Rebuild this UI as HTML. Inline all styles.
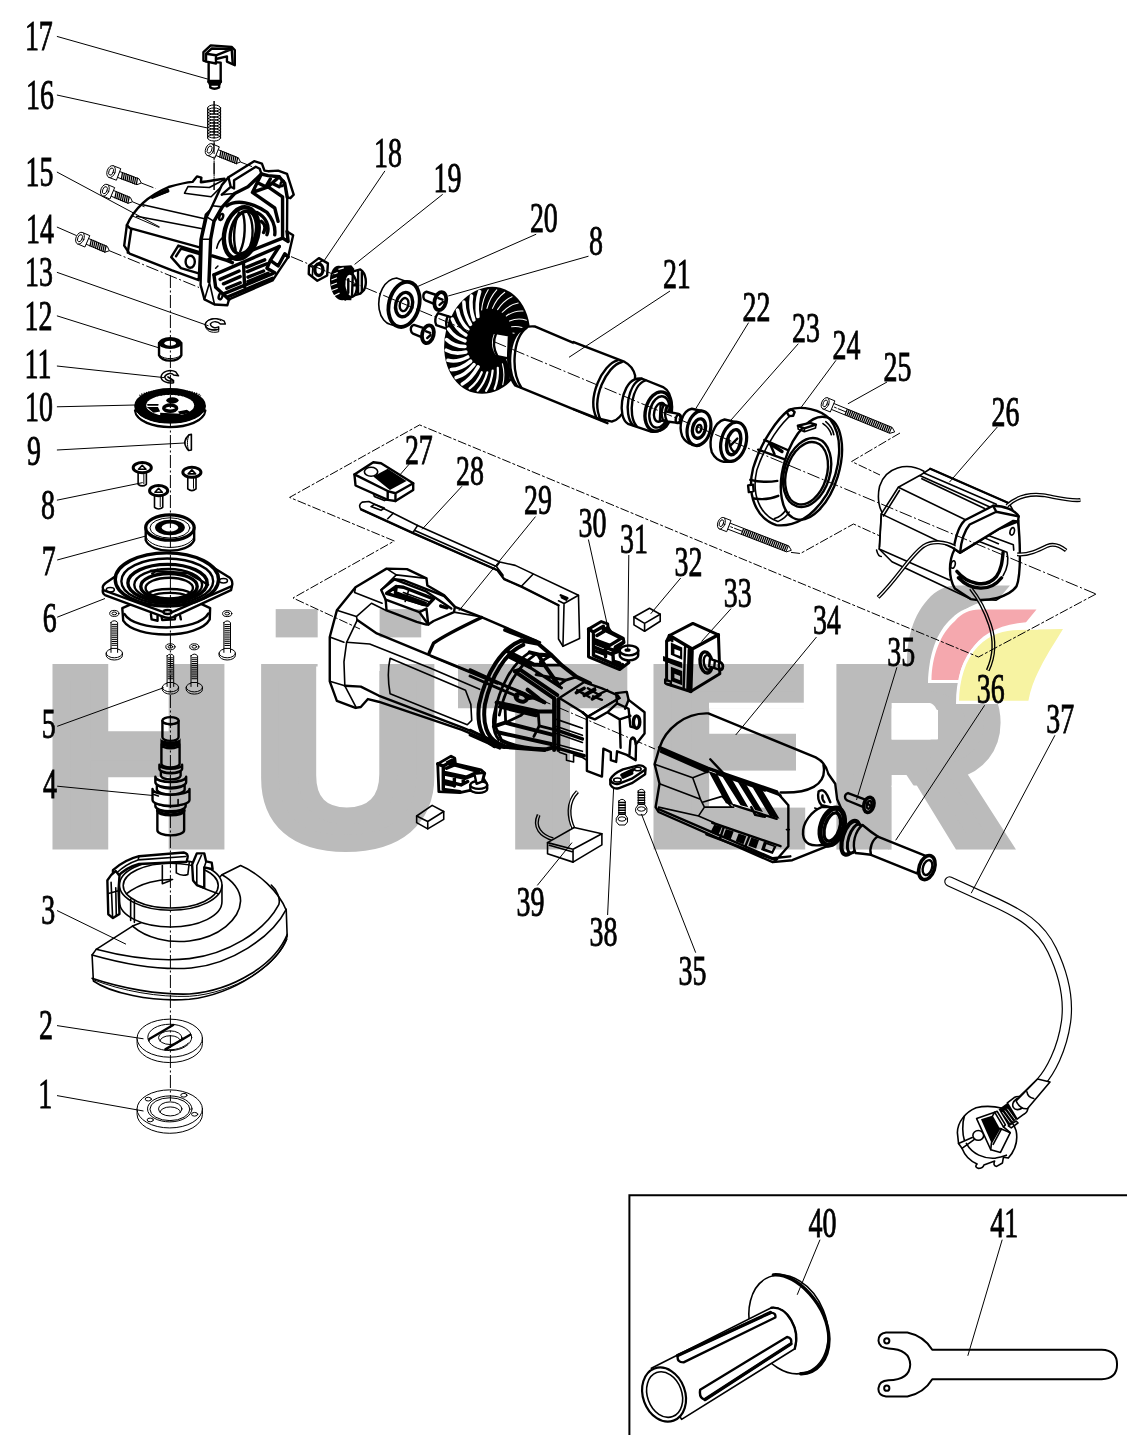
<!DOCTYPE html>
<html lang="en"><head><meta charset="utf-8"><title>HÜTER parts diagram</title>
<style>
html,body{margin:0;padding:0;background:#fff}
svg{display:block}
.n{font-family:"Liberation Serif",serif;font-size:43px;fill:#000;stroke:#000;stroke-width:.9px}
path,line,ellipse,circle,rect,polyline,polygon{vector-effect:non-scaling-stroke}
.k{fill:none;stroke:#000;stroke-width:1.6;stroke-linejoin:round;stroke-linecap:round}
.t{fill:none;stroke:#000;stroke-width:1;stroke-linejoin:round;stroke-linecap:round}
.b{fill:none;stroke:#000;stroke-width:2.4;stroke-linejoin:round;stroke-linecap:round}
.bb{fill:none;stroke:#000;stroke-width:3.4;stroke-linejoin:round;stroke-linecap:round}
.w{fill:#fff;stroke:#000;stroke-width:1.6;stroke-linejoin:round;stroke-linecap:round}
.wt{fill:#fff;stroke:#000;stroke-width:1;stroke-linejoin:round;stroke-linecap:round}
.wb{fill:#fff;stroke:#000;stroke-width:2.4;stroke-linejoin:round;stroke-linecap:round}
.f{fill:#000;stroke:none}
.l{fill:none;stroke:#000;stroke-width:1}
.d{fill:none;stroke:#000;stroke-width:1;stroke-dasharray:13 2.5 2 2.5}
.ds{fill:none;stroke:#000;stroke-width:1;stroke-dasharray:9 2 3 2}
</style></head>
<body>
<svg width="1127" height="1435" viewBox="0 0 1127 1435">
<!-- 20_p15 -->
<g id="p15a" transform="translate(110 140) scale(.17746)">
<path class="wb" d="M80,595 L95,480 C130,400 200,320 330,265 C400,245 440,238 465,236 L490,205 L515,212 L512,238 C560,232 610,222 645,218 L660,300 L540,420 L510,560 L500,790 L350,735 L110,640 Z"/>
<path class="b" d="M95,480 L112,497 L505,605 M120,500 L100,635"/>
<path class="k" d="M150,430 L520,500 M185,365 L527,442 M240,322 L330,290 M420,300 L570,320 L640,250 M420,300 L440,262 L560,268 L640,225"/>
<path class="bb" d="M238,322 L325,285"/>
<path class="b" d="M345,660 L385,595 L500,630 M345,660 L400,722 L500,752 M372,655 L400,612 L500,642"/>
<ellipse class="b" cx="452" cy="686" rx="26" ry="34"/>
<path class="t" d="M120,425 L275,492"/>
</g>
<g id="p15b" transform="translate(190 150) scale(.11152)">
<path class="wb" d="M285,315 L345,245 L575,100 L645,122 L668,185 L700,190 L790,185 L870,215 L930,400 L900,432 L872,425 L870,730 L925,765 L880,960 L800,1080 L740,1170 L350,1340 L335,1392 L220,1385 L130,1340 L95,1210 L105,800 L150,600 L200,500 Z"/>
<path class="b" d="M395,272 L590,150 L625,168 L640,215 M345,245 L365,330 L395,345 L395,272 M365,330 L285,400"/>
<path class="bb" d="M170,1180 L185,800 L215,640 L290,510 L400,390 L520,330 L640,215 L700,230 L800,240 L850,300 L872,425"/>
<path class="k" d="M200,500 L290,510 M150,600 L215,640 M105,800 L185,800 M130,1340 L175,1190 L220,1385 M285,400 L400,390"/>
<path class="bb" d="M640,215 L560,380 L700,330 L800,240 M700,330 L830,420 L830,790 M560,380 L760,520 L790,640 M620,300 L680,330 L720,260 M740,300 L800,330"/>
<ellipse class="b" cx="828" cy="300" rx="14" ry="26" transform="rotate(20 828 300)"/>
<ellipse class="b" cx="280" cy="600" rx="16" ry="28" transform="rotate(20 280 600)"/>
<ellipse class="b" cx="275" cy="1310" rx="16" ry="30" transform="rotate(20 275 1310)"/>
<ellipse class="bb" cx="460" cy="745" rx="150" ry="235" transform="rotate(14 460 745)" style="stroke-width:4.4"/>
<ellipse class="bb" cx="478" cy="740" rx="112" ry="195" transform="rotate(14 478 740)"/>
<path class="b" d="M440,560 C400,640 380,780 410,900 M470,555 C500,640 500,800 450,910 M520,560 C570,640 580,800 520,900"/>
<path class="bb" d="M330,500 C420,440 560,470 690,560 C740,620 770,680 760,760 M600,560 C680,600 720,680 690,760 M640,640 C670,660 680,700 660,740"/>
<path class="bb" d="M200,950 L330,990 L830,790 M215,1120 L800,865 M330,990 L380,1010"/>
<path class="bb" d="M830,790 L880,820 L870,730 M800,865 L720,990 L790,1040 L850,930 L880,960 M720,990 L690,1060 L760,1100"/>
<path class="bb" d="M510,1050 L670,985 M515,1090 L690,1020 M520,1140 L660,1085 M520,1180 L700,1105 M270,1160 L440,1085 M300,1200 L450,1135 M330,1240 L450,1190 M480,1020 L490,1230"/>
<path class="bb" d="M215,1120 L230,1230 L350,1340 M300,1290 L740,1110 M330,1320 L740,1150"/>
<path class="k" d="M240,880 C250,830 270,800 300,780 M230,1060 L250,1040"/>
</g>
<!-- 21_p14_17 -->
<path class="d" d="M214.1,101 V138 M214.1,143 V190"/>
<g transform="translate(111.1 171.6) rotate(20.7)"><path class="wt" d="M8.0,-3.1 L28.8,-3.1 L32.3,0 L28.8,3.1 L8.0,3.1 Z"/><path class="k" d="M11.0,-3.1 L12.2,3.1 M13.0,-3.1 L14.2,3.1 M15.0,-3.1 L16.2,3.1 M17.0,-3.1 L18.2,3.1 M19.0,-3.1 L20.2,3.1 M21.0,-3.1 L22.2,3.1 M23.0,-3.1 L24.2,3.1 M25.0,-3.1 L26.2,3.1 M27.0,-3.1 L28.2,3.1 " style="stroke-width:1.3"/><path class="wt" d="M0,-6.2 L8.0,-6.2 L8.0,6.2 L0,6.2 Z"/><ellipse class="wt" cx="0" cy="0" rx="4.0" ry="6.2"/><ellipse class="t" cx="0" cy="0" rx="2.2" ry="3.8"/></g>
<g transform="translate(104.9 190.2) rotate(22.8)"><path class="wt" d="M8.0,-3.1 L26.4,-3.1 L29.9,0 L26.4,3.1 L8.0,3.1 Z"/><path class="k" d="M11.0,-3.1 L12.2,3.1 M13.0,-3.1 L14.2,3.1 M15.0,-3.1 L16.2,3.1 M17.0,-3.1 L18.2,3.1 M19.0,-3.1 L20.2,3.1 M21.0,-3.1 L22.2,3.1 M23.0,-3.1 L24.2,3.1 M25.0,-3.1 L26.2,3.1 " style="stroke-width:1.3"/><path class="wt" d="M0,-6.2 L8.0,-6.2 L8.0,6.2 L0,6.2 Z"/><ellipse class="wt" cx="0" cy="0" rx="4.0" ry="6.2"/><ellipse class="t" cx="0" cy="0" rx="2.2" ry="3.8"/></g>
<g transform="translate(80.0 238.2) rotate(23.1)"><path class="wt" d="M8.0,-3.1 L28.4,-3.1 L31.9,0 L28.4,3.1 L8.0,3.1 Z"/><path class="k" d="M11.0,-3.1 L12.2,3.1 M13.0,-3.1 L14.2,3.1 M15.0,-3.1 L16.2,3.1 M17.0,-3.1 L18.2,3.1 M19.0,-3.1 L20.2,3.1 M21.0,-3.1 L22.2,3.1 M23.0,-3.1 L24.2,3.1 M25.0,-3.1 L26.2,3.1 M27.0,-3.1 L28.2,3.1 " style="stroke-width:1.3"/><path class="wt" d="M0,-6.2 L8.0,-6.2 L8.0,6.2 L0,6.2 Z"/><ellipse class="wt" cx="0" cy="0" rx="4.0" ry="6.2"/><ellipse class="t" cx="0" cy="0" rx="2.2" ry="3.8"/></g>
<g transform="translate(209.6 149.6) rotate(21.9)"><path class="wt" d="M8.0,-3.1 L29.8,-3.1 L33.3,0 L29.8,3.1 L8.0,3.1 Z"/><path class="k" d="M11.0,-3.1 L12.2,3.1 M13.0,-3.1 L14.2,3.1 M15.0,-3.1 L16.2,3.1 M17.0,-3.1 L18.2,3.1 M19.0,-3.1 L20.2,3.1 M21.0,-3.1 L22.2,3.1 M23.0,-3.1 L24.2,3.1 M25.0,-3.1 L26.2,3.1 M27.0,-3.1 L28.2,3.1 M29.0,-3.1 L30.2,3.1 " style="stroke-width:1.3"/><path class="wt" d="M0,-6.2 L8.0,-6.2 L8.0,6.2 L0,6.2 Z"/><ellipse class="wt" cx="0" cy="0" rx="4.0" ry="6.2"/><ellipse class="t" cx="0" cy="0" rx="2.2" ry="3.8"/></g>
<g transform="translate(170 25) scale(.10449)">
<path class="wb" d="M370,350 L370,545 L385,565 L385,598 Q425,622 470,598 L470,565 L485,545 L485,360 Z"/>
<path class="bb" d="M372,540 L483,540 M385,565 L470,565"/>
<path class="wb" d="M320,260 L390,195 L590,210 L620,240 L620,385 L545,350 L545,300 L440,325 L440,368 L350,350 L320,340 Z"/>
<path class="b" d="M345,275 L440,290 L440,325 M345,275 L345,348 M345,275 L400,225 L590,230 M440,290 L590,230 L600,370"/>
</g>
<g transform="translate(170 25) scale(.10449)"><ellipse class="t" cx="422.0" cy="795.0" rx="62.0" ry="30.0"/><ellipse class="t" cx="422.0" cy="823.5" rx="62.0" ry="30.0"/><ellipse class="t" cx="422.0" cy="852.0" rx="62.0" ry="30.0"/><ellipse class="t" cx="422.0" cy="880.5" rx="62.0" ry="30.0"/><ellipse class="t" cx="422.0" cy="909.0" rx="62.0" ry="30.0"/><ellipse class="t" cx="422.0" cy="937.5" rx="62.0" ry="30.0"/><ellipse class="t" cx="422.0" cy="966.0" rx="62.0" ry="30.0"/><ellipse class="t" cx="422.0" cy="994.5" rx="62.0" ry="30.0"/><ellipse class="t" cx="422.0" cy="1023.0" rx="62.0" ry="30.0"/><ellipse class="t" cx="422.0" cy="1051.5" rx="62.0" ry="30.0"/><ellipse class="t" cx="422.0" cy="1080.0" rx="62.0" ry="30.0"/>
<path class="t" d="M360,795 V1080 M484,795 V1080"/></g>
<!-- 22_p9_13 -->
<g transform="translate(120 300) scale(.11152)">
<!-- 13 clip -->
<path class="wt" d="M905,185 C860,150 780,165 765,215 C760,260 830,280 885,262 L885,285 C820,300 760,280 765,215" />
<path class="k" style="stroke-width:1.4" d="M945,215 L900,215 C880,190 830,185 810,215 C815,250 860,255 885,240 L885,262 C830,280 760,260 765,215 C780,165 880,150 935,190 Z" fill="#fff"/>
<!-- 12 bushing -->
<path class="wb" d="M350,385 L350,495 C380,560 520,560 550,495 L550,385 Z"/>
<ellipse class="f" cx="450" cy="385" rx="104" ry="54"/>
<ellipse cx="450" cy="388" rx="52" ry="22" fill="#fff"/>
<path class="t" d="M360,500 C400,535 500,535 540,500"/>
<!-- 11 clip -->
<path class="k" style="stroke-width:1.5" d="M525,680 L480,672 C470,655 420,650 400,690 C410,725 455,735 480,720 L480,742 C430,750 370,730 368,690 C375,640 450,615 500,645 Z" fill="#fff"/>
<path class="k" d="M430,690 L470,715"/>
<!-- 10 gear -->
<path class="wb" d="M135,990 C160,1190 740,1190 765,990 Z"/>
<ellipse class="f" cx="449" cy="950" rx="322" ry="160"/>
<path d="M150,1010 C220,1150 680,1150 750,1010" fill="none" stroke="#fff" stroke-width="1"/>
<ellipse cx="450" cy="945" rx="215" ry="95" fill="#fff"/>
<ellipse class="bb" cx="450" cy="970" rx="58" ry="28"/>
<ellipse class="f" cx="470" cy="900" rx="55" ry="28"/>
<path class="f" d="M240,960 L340,960 L360,1000 L300,1010 Z M520,1000 L600,985 L640,1010 L540,1030 Z M360,1010 L540,1020 L540,1040 L360,1040 Z"/>
<path class="k" d="M250,940 L340,940"/>
<path d="M300,865 C380,835 520,835 600,865" fill="none" stroke="#000" stroke-width="2" stroke-dasharray="2 1.5"/>
<path d="M175,858 C260,792 640,792 725,858" fill="none" stroke="#000" stroke-width="1.6" stroke-dasharray="1.2 1.2"/>
<!-- 9 key -->
<path class="w" d="M640,1205 L640,1345 L615,1350 C590,1320 580,1290 580,1275 C585,1250 600,1225 620,1208 Z"/>
<path class="t" d="M620,1208 C600,1250 600,1300 615,1350"/>
</g>
<!-- 23_p5_8 -->
<g transform="translate(95 455) scale(.1331)">
<path class="w" d="M324,115 V220 Q355,245 386,220 V115 Z"/><path class="t" d="M367,135 V215"/><ellipse class="wb" cx="355" cy="95" rx="68" ry="38" style="stroke-width:3"/><path class="k" d="M327,107 L355,77 L383,107 Z"/>
<path class="w" d="M697,150 V255 Q728,280 759,255 V150 Z"/><path class="t" d="M740,170 V250"/><ellipse class="wb" cx="728" cy="130" rx="68" ry="38" style="stroke-width:3"/><path class="k" d="M700,142 L728,112 L756,142 Z"/>
<path class="w" d="M447,288 V393 Q478,418 509,393 V288 Z"/><path class="t" d="M490,308 V388"/><ellipse class="wb" cx="478" cy="268" rx="68" ry="38" style="stroke-width:3"/><path class="k" d="M450,280 L478,250 L506,280 Z"/>
<path class="wb" d="M381,545 V640 C420,745 700,745 745,640 V545 Z"/>
<path class="t" d="M385,620 C430,720 700,720 742,620"/>
<ellipse class="wb" cx="563" cy="545" rx="182" ry="95" style="stroke-width:3.2"/>
<ellipse class="t" cx="563" cy="548" rx="150" ry="76"/>
<ellipse class="f" cx="563" cy="545" rx="112" ry="58"/>
<ellipse cx="563" cy="545" rx="62" ry="30" fill="#fff"/>
<path class="wb" d="M205,1150 L212,1245 C300,1385 780,1385 862,1235 L865,1150 L545,1000 Z"/>
<path class="b" d="M222,1195 C300,1330 780,1330 852,1190"/>
<path class="wb" d="M60,1005 Q52,985 80,962 L330,790 Q567,700 800,790 L1010,920 Q1042,950 1028,990 L1022,1015 L585,1218 Q545,1232 505,1212 L75,1052 Q52,1040 60,1005 Z"/>
<path class="b" d="M68,1018 L515,1180 Q545,1192 580,1180 L1028,985"/>
<ellipse class="wb" cx="540" cy="935" rx="388" ry="200" style="stroke-width:3.4"/>
<ellipse class="b" cx="543" cy="948" rx="345" ry="170"/>
<ellipse class="bb" cx="545" cy="962" rx="298" ry="140"/>
<ellipse class="b" cx="550" cy="975" rx="255" ry="118"/>
<ellipse class="bb" cx="556" cy="988" rx="212" ry="98"/>
<ellipse class="b" cx="558" cy="1000" rx="178" ry="78"/>
<path class="b" d="M400,1040 C450,995 670,995 720,1040 M430,1058 C480,1028 640,1028 690,1058"/>
<path class="b" d="M420,870 L700,888 L850,975 M470,862 L430,890"/>
<ellipse class="k" cx="115" cy="1012" rx="30" ry="17"/>
<ellipse class="k" cx="965" cy="945" rx="30" ry="17"/>
<ellipse class="wb" cx="545" cy="1180" rx="30" ry="15"/>
<path class="b" d="M420,1195 L425,1235 L470,1245 L470,1210 M500,1215 L505,1240 L600,1235 L605,1205 M640,1210 L645,1235"/>
</g>
<ellipse class="wt" cx="114.3" cy="613.4" rx="4.6" ry="3"/><ellipse class="t" cx="114.3" cy="613.4" rx="2.4" ry="1.4"/><path class="wt" d="M111.0,622.4 V653.4 H117.6 V622.4 Q114.3,618.9 111.0,622.4 Z"/><path class="t" d="M112.0,624.4 h4.6 M112.0,626.3 h4.6 M112.0,628.2 h4.6 M112.0,630.1 h4.6 M112.0,632.0 h4.6 M112.0,633.9 h4.6 M112.0,635.8 h4.6 M112.0,637.7 h4.6 M112.0,639.6 h4.6 M112.0,641.5 h4.6 M112.0,643.4 h4.6 M112.0,645.3 h4.6 "/><path class="wt" d="M106.1,655.4 a8.2,4.6 0 1,0 16.4,0 v-2.2 a8.2,4.6 0 1,0 -16.4,0 Z"/><path class="t" d="M106.1,653.2 a8.2,4.6 0 0,0 16.4,0"/><path class="wt" d="M111.0,652.4 v-4 h6.6 v4"/>
<ellipse class="wt" cx="227.2" cy="613.6" rx="4.6" ry="3"/><ellipse class="t" cx="227.2" cy="613.6" rx="2.4" ry="1.4"/><path class="wt" d="M223.9,622.6 V653.4 H230.5 V622.6 Q227.2,619.1 223.9,622.6 Z"/><path class="t" d="M224.9,624.6 h4.6 M224.9,626.5 h4.6 M224.9,628.4 h4.6 M224.9,630.3 h4.6 M224.9,632.2 h4.6 M224.9,634.1 h4.6 M224.9,636.0 h4.6 M224.9,637.9 h4.6 M224.9,639.8 h4.6 M224.9,641.7 h4.6 M224.9,643.6 h4.6 M224.9,645.5 h4.6 "/><path class="wt" d="M219.0,655.4 a8.2,4.6 0 1,0 16.4,0 v-2.2 a8.2,4.6 0 1,0 -16.4,0 Z"/><path class="t" d="M219.0,653.2 a8.2,4.6 0 0,0 16.4,0"/><path class="wt" d="M223.9,652.4 v-4 h6.6 v4"/>
<ellipse class="wt" cx="170.4" cy="646.8" rx="4.6" ry="3"/><ellipse class="t" cx="170.4" cy="646.8" rx="2.4" ry="1.4"/><path class="wt" d="M167.1,655.8 V687.5 H173.7 V655.8 Q170.4,652.3 167.1,655.8 Z"/><path class="t" d="M168.1,657.8 h4.6 M168.1,659.7 h4.6 M168.1,661.6 h4.6 M168.1,663.5 h4.6 M168.1,665.4 h4.6 M168.1,667.3 h4.6 M168.1,669.2 h4.6 M168.1,671.1 h4.6 M168.1,673.0 h4.6 M168.1,674.9 h4.6 M168.1,676.8 h4.6 M168.1,678.7 h4.6 "/><path class="wt" d="M162.2,689.5 a8.2,4.6 0 1,0 16.4,0 v-2.2 a8.2,4.6 0 1,0 -16.4,0 Z"/><path class="t" d="M162.2,687.3 a8.2,4.6 0 0,0 16.4,0"/><path class="wt" d="M167.1,686.5 v-4 h6.6 v4"/>
<ellipse class="wt" cx="194.3" cy="646.8" rx="4.6" ry="3"/><ellipse class="t" cx="194.3" cy="646.8" rx="2.4" ry="1.4"/><path class="wt" d="M191.0,655.8 V687.5 H197.6 V655.8 Q194.3,652.3 191.0,655.8 Z"/><path class="t" d="M192.0,657.8 h4.6 M192.0,659.7 h4.6 M192.0,661.6 h4.6 M192.0,663.5 h4.6 M192.0,665.4 h4.6 M192.0,667.3 h4.6 M192.0,669.2 h4.6 M192.0,671.1 h4.6 M192.0,673.0 h4.6 M192.0,674.9 h4.6 M192.0,676.8 h4.6 M192.0,678.7 h4.6 "/><path class="wt" d="M186.1,689.5 a8.2,4.6 0 1,0 16.4,0 v-2.2 a8.2,4.6 0 1,0 -16.4,0 Z"/><path class="t" d="M186.1,687.3 a8.2,4.6 0 0,0 16.4,0"/><path class="wt" d="M191.0,686.5 v-4 h6.6 v4"/>
<!-- 24_p4 -->
<g transform="translate(120 700) scale(.10101)">
<path class="wb" d="M370,1060 V1290 A132,50 0 0,0 635,1290 V1060 A132,50 0 0,1 370,1060 Z"/>
<path class="bb" d="M372,1095 A132,50 0 0,0 633,1095"/><path class="wb" d="M350,1000 V1050 A150,52 0 0,0 650,1050 V1000 A150,52 0 0,1 350,1000 Z"/>
<path class="wb" d="M322,880 V990 A183,58 0 0,0 688,990 V880 A183,58 0 0,1 322,880 Z"/>
<path class="k" d="M575,985 V1040 M335,935 L380,950"/><path class="wb" d="M365,830 V890 A138,50 0 0,0 640,890 V830 A138,50 0 0,1 365,830 Z"/>
<path class="wb" d="M350,760 V815 A152,52 0 0,0 655,815 V760 A152,52 0 0,1 350,760 Z"/>
<path class="wb" d="M405,690 V750 A98,40 0 0,0 600,750 V690 A98,40 0 0,1 405,690 Z"/>
<path class="wb" d="M390,640 V680 A112,42 0 0,0 615,680 V640 A112,42 0 0,1 390,640 Z"/>
<path class="wb" d="M410,440 V630 A90,38 0 0,0 590,630 V440 A90,38 0 0,1 410,440 Z"/>
<path class="f" d="M400,375 V430 A100,38 0 0,0 600,430 V375 A100,38 0 0,1 400,375 Z"/><path class="wb" d="M420,205 V370 A80,35 0 0,0 580,370 V205 A80,35 0 0,1 420,205 Z"/><ellipse class="wb" cx="500" cy="205" rx="80" ry="35"/>
</g>
<!-- 25_p3 -->
<g transform="translate(85 845) scale(.18634)">
<!-- guard body -->
<path class="w" d="M835,110 C930,150 1040,250 1080,350 L1085,490 C1040,640 800,800 560,828 C350,845 130,790 45,730 L38,590 L60,560 L255,435 L600,300 L735,160 Z"/>
<path class="k" d="M60,560 C250,610 420,625 560,610 C760,585 960,470 1040,320 C1050,290 1030,240 1000,215"/>
<path class="k" d="M38,590 C250,650 420,672 570,660 C780,640 1000,500 1080,345"/>
<path class="k" d="M38,715 C200,770 400,805 560,800 C800,780 1020,640 1085,480"/>
<path class="t" d="M42,722 C200,785 400,818 560,812 C800,795 1030,650 1085,505"/>
<path class="k" d="M255,435 C330,500 450,528 560,515 C720,495 830,400 835,300 C835,240 790,190 735,160"/>
<!-- collar -->
<path class="w" d="M185,215 V305 A275,135 0 0,0 735,305 V215 Z"/>
<ellipse class="w" cx="460" cy="215" rx="275" ry="135"/>
<ellipse class="k" cx="460" cy="218" rx="255" ry="120"/>
<path class="k" d="M222,262 C300,200 400,183 470,185 M245,290 V405 M265,300 V415"/>
<path class="k" d="M415,110 V208 L460,190 M490,90 V150 Q520,170 552,158 L560,90 M600,215 C650,240 680,250 715,262"/>
<!-- top strap / lever -->
<path class="wb" d="M150,135 C200,90 250,70 290,60 L530,40 Q555,45 550,70 L545,90 L290,102 C240,115 200,140 170,175 L150,175 Z"/>
<path class="k" d="M290,60 L285,80 L540,62 M285,80 C240,95 200,120 170,150"/>
<!-- left clamp -->
<path class="wb" d="M120,190 C135,165 150,150 165,140 L185,165 L180,240 L185,370 L150,392 L125,372 Z"/>
<path class="k" d="M140,200 L148,385 M165,230 L168,380 M125,260 L180,245"/>
<!-- right boss -->
<path class="wb" d="M575,105 L600,45 L640,45 L650,88 L680,95 L685,130 L640,120 L640,230 L600,215 L580,190 Z"/>
<path class="k" d="M600,110 L625,55 M600,110 V210 M640,120 L650,88"/>
</g>
<!-- 26_p1_2 -->
<g transform="translate(120 1005) scale(.09756)">
<path class="wt" d="M175,340 V395 A335,195 0 0,0 845,395 V340 Z"/>
<ellipse class="wt" cx="510" cy="340" rx="335" ry="195"/>
<ellipse class="t" cx="510" cy="332" rx="225" ry="135"/>
<path class="b" d="M300,348 L545,205 M465,455 L720,305"/>
<path class="t" d="M300,348 L300,370 M465,455 C560,470 650,440 700,390"/>
<ellipse class="t" cx="515" cy="335" rx="120" ry="70"/>
<path class="t" d="M410,370 A105,55 0 0,1 620,370"/>
<path class="wt" d="M175,1065 V1120 A335,195 0 0,0 845,1120 V1065 Z"/>
<ellipse class="wt" cx="510" cy="1065" rx="335" ry="195"/>
<ellipse class="t" cx="510" cy="1065" rx="228" ry="133"/>
<ellipse class="t" cx="512" cy="1068" rx="205" ry="117"/>
<ellipse class="t" cx="515" cy="1065" rx="120" ry="72"/>
<path class="t" d="M410,1100 A105,55 0 0,1 620,1100"/>
<ellipse class="t" cx="290" cy="965" rx="32" ry="19"/><ellipse class="t" cx="655" cy="925" rx="32" ry="19"/><ellipse class="t" cx="765" cy="1120" rx="32" ry="19"/><ellipse class="t" cx="310" cy="1178" rx="32" ry="19"/>
</g>
<!-- 27_p18_20 -->
<g transform="translate(300 240) scale(.15084)">
<!-- 18 nut -->
<path class="wb" d="M60,170 L125,120 L185,155 L180,235 L115,270 L58,225 Z"/>
<path class="k" d="M60,170 L85,180 L150,135 M85,180 L82,240"/>
<ellipse class="bb" cx="125" cy="197" rx="27" ry="38"/>
<!-- 19 pinion -->
<path class="wb" d="M330,215 L400,195 C440,220 445,290 425,330 L400,355 L330,375 Z"/>
<path class="b" d="M385,205 V350 M410,215 V340"/>
<ellipse class="f" cx="268" cy="285" rx="68" ry="115" transform="rotate(-8 268 285)"/>
<path class="f" d="M268,172 L340,168 L360,190 L340,400 L280,398 Z"/>
<path d="M215,230 L250,215 M208,265 L245,250 M205,300 L245,285 M210,335 L250,320 M225,370 L262,352 M255,195 L290,185" stroke="#fff" stroke-width="1.2" fill="none"/>
<ellipse cx="335" cy="300" rx="42" ry="78" fill="#fff" stroke="#000" stroke-width="2.4" transform="rotate(-5 335 300)"/>
<path class="b" d="M320,260 V350 M350,235 L345,365 M300,330 L300,395 M360,300 L385,300"/>
<!-- 20 bearing -->
<path class="w" d="M720,280 L640,252 C560,260 510,360 525,460 C535,520 570,555 600,560 L665,578 Z"/>
<ellipse class="wb" cx="690" cy="427" rx="100" ry="152" transform="rotate(14 690 427)" style="stroke-width:3.8"/>
<ellipse class="bb" cx="690" cy="428" rx="55" ry="82" transform="rotate(14 690 428)"/>
<ellipse class="b" cx="690" cy="428" rx="28" ry="44" transform="rotate(14 690 428)"/>
<!-- screws 8 -->
<path class="wb" d="M915,368 L838,343 Q815,350 818,378 Q820,395 832,400 L905,430 Z"/>
<ellipse class="wb" cx="930" cy="405" rx="38" ry="60" transform="rotate(14 930 405)" style="stroke-width:3.8"/>
<path class="b" d="M918,385 L945,395 M925,430 L948,410"/>
<path class="wb" d="M832,588 L755,563 Q732,570 735,598 Q737,615 749,620 L822,650 Z"/>
<ellipse class="wb" cx="848" cy="625" rx="38" ry="60" transform="rotate(14 848 625)" style="stroke-width:3.8"/>
<path class="b" d="M836,605 L863,615 M843,650 L866,630"/>
</g>
<!-- 28_p21 -->
<g transform="translate(430 275) scale(.17746)">
<path class="wb" d="M45,215 L140,245 L130,315 L35,282 Q20,250 45,215 Z"/><path class="b" d="M100,232 Q85,265 95,300 M118,238 Q103,270 113,308"/>
<ellipse class="f" cx="322" cy="368" rx="238" ry="305" transform="rotate(14 322 368)"/>
<path d="M382,523 Q387,584 364,642 M353,539 Q348,602 316,653 M323,548 Q307,609 268,652 M292,548 Q268,606 223,639 " fill="none" stroke="#fff" stroke-width="2.2" stroke-linecap="round"/>
<path d="M461,403 Q501,433 518,488 M448,439 Q482,480 489,539 M431,472 Q456,522 453,583 M408,500 Q424,557 410,618 M291,197 Q296,134 328,83 M321,188 Q337,127 376,84 M352,188 Q376,130 421,97 M381,195 Q414,144 462,122 M407,210 Q447,167 497,158 M430,231 Q475,199 524,203 M448,259 Q497,239 543,255 M460,292 Q510,284 552,312 M467,327 Q516,333 550,372 M467,365 Q513,383 539,431 " fill="none" stroke="#fff" stroke-width="1.1" stroke-linecap="round"/>
<path d="M271,518 Q232,587 182,614 M248,505 Q200,564 147,578 M229,486 Q172,533 120,533 M213,462 Q152,494 101,481 M202,434 Q138,450 92,424 M197,403 Q133,402 94,364 M197,371 Q136,353 105,305 M202,338 Q147,305 126,248 M213,307 Q166,259 155,197 M228,278 Q191,218 191,153 M247,253 Q223,184 234,118 M270,234 Q258,157 280,94 " fill="none" stroke="#fff" stroke-width="3.6" stroke-linecap="round"/>
<path class="wb" d="M355,325 L445,340 L440,470 L365,455 Q325,395 355,325 Z"/>
<path class="b" d="M372,330 Q345,395 380,458"/>
<path class="wb" d="M1100,507 L590,290 Q540,285 500,315 C420,380 430,560 480,622 L1000,835 Z" style="stroke:none"/><path class="b" d="M1100,507 L590,290 Q540,285 500,315 C420,380 430,560 480,622 L1000,835"/>
<path class="b" d="M520,305 C440,360 430,540 490,625 M545,297 C465,355 455,545 515,635"/>
</g>
<!-- 29_p21b_23 -->
<g transform="translate(580 350) scale(.15972)">
<!-- body end -->
<path d="M-40,-50 L280,75 Q330,100 345,160 C350,280 260,440 200,448 L100,425 L-40,370 Z" fill="#fff"/><path class="b" d="M-40,-50 L280,75 Q330,100 345,160 C350,280 260,440 200,448 L100,425 L-40,370"/>
<path class="b" d="M235,65 C140,90 40,300 105,428 M262,75 C165,100 65,310 130,438"/>
<!-- commutator -->
<path class="wb" d="M390,180 L520,232 C590,270 590,420 540,480 Q500,520 440,510 L300,462 C230,420 260,220 340,185 Q365,175 390,180 Z"/>
<path class="b" d="M385,180 C300,210 270,400 330,470 M410,190 C325,220 295,410 355,478"/>
<ellipse class="bb" cx="490" cy="385" rx="80" ry="125" transform="rotate(14 490 385)"/>
<ellipse class="b" cx="497" cy="388" rx="60" ry="100" transform="rotate(14 497 388)"/>
<ellipse class="wb" cx="500" cy="390" rx="35" ry="60" transform="rotate(14 500 390)"/>
<path class="wb" d="M505,335 L545,350 L540,385 L618,400 Q640,425 625,458 L545,448 L535,440 L500,445 Z"/>
<path class="b" d="M545,350 Q520,400 545,448 M525,342 Q500,392 520,442"/>
<ellipse class="b" cx="615" cy="430" rx="15" ry="28" transform="rotate(14 615 430)"/>
<!-- 22 -->
<path class="wb" d="M775,385 L700,368 C640,380 615,470 640,540 Q660,580 700,590 L745,598 Z"/>
<ellipse class="wb" cx="745" cy="490" rx="72" ry="110" transform="rotate(14 745 490)" style="stroke-width:3.2"/>
<ellipse class="bb" cx="745" cy="492" rx="40" ry="62" transform="rotate(14 745 492)"/>
<ellipse class="b" cx="745" cy="493" rx="15" ry="24" transform="rotate(14 745 493)"/>
<!-- 23 -->
<path class="wb" d="M990,455 L905,435 C840,450 800,560 825,640 Q850,690 900,700 L945,700 Z"/>
<ellipse class="wb" cx="962" cy="575" rx="78" ry="125" transform="rotate(14 962 575)" style="stroke-width:3.2"/>
<ellipse class="bb" cx="962" cy="577" rx="42" ry="80" transform="rotate(14 962 577)"/>
<path class="b" d="M940,600 L985,555 M930,560 C940,620 960,640 975,640"/>
</g>
<!-- 30_p24_25 -->
<g transform="translate(825.2 403.4) rotate(22.3)"><path class="wt" d="M8.0,-3.2 L71.1,-3.2 L75.1,0 L71.1,3.2 L8.0,3.2 Z"/><path d="M22.0,0 H71.1" stroke="#000" stroke-width="6.4" stroke-dasharray="1.3 0.7" fill="none"/><path class="t" d="M-2.0,0 H22.0" style="stroke-dasharray:10 2 2 2"/><path class="wt" d="M0,-6.0 L8.0,-6.0 L8.0,6.0 L0,6.0 Z"/><ellipse class="wt" cx="0" cy="0" rx="3.6" ry="6.0"/><ellipse class="t" cx="0" cy="0" rx="2.0" ry="3.6"/></g>
<g transform="translate(721.4 523.2) rotate(21.2)"><path class="wt" d="M8.0,-3.2 L71.0,-3.2 L75.0,0 L71.0,3.2 L8.0,3.2 Z"/><path d="M22.0,0 H71.0" stroke="#000" stroke-width="6.4" stroke-dasharray="1.3 0.7" fill="none"/><path class="t" d="M-2.0,0 H22.0" style="stroke-dasharray:10 2 2 2"/><path class="wt" d="M0,-6.0 L8.0,-6.0 L8.0,6.0 L0,6.0 Z"/><ellipse class="wt" cx="0" cy="0" rx="3.6" ry="6.0"/><ellipse class="t" cx="0" cy="0" rx="2.0" ry="3.6"/></g>
<g transform="translate(700 390) scale(.18634)">
<path class="wb" d="M480,105 C420,150 330,270 285,420 C250,560 300,690 410,725 C500,735 600,690 680,560 C760,420 770,250 700,160 C650,100 540,85 480,105 Z"/>
<path class="k" d="M500,125 C440,170 350,290 305,430 C275,560 320,670 415,705"/>
<ellipse class="b" cx="598" cy="420" rx="148" ry="285" transform="rotate(17 598 420)"/>
<ellipse class="b" cx="575" cy="443" rx="122" ry="190" transform="rotate(17 575 443)"/>
<ellipse class="b" cx="572" cy="447" rx="108" ry="172" transform="rotate(17 572 447)"/>
<path class="b" d="M345,268 L470,322 M312,320 L455,372 M372,280 L400,345 M270,482 C320,495 370,495 415,488 M290,582 C340,590 380,585 420,568"/>
<path class="bb" d="M380,290 L440,330"/>
<path class="k" d="M660,180 C690,200 700,220 705,240 M675,170 C705,195 715,220 718,240 M400,690 C430,680 450,660 460,645 M420,705 C450,690 470,670 478,655"/>
<path class="wb" d="M525,192 L590,176 L622,186 L560,206 Z"/><path class="k" d="M525,192 L527,210 L560,224 L560,206 M560,224 L620,204 L622,186"/>
<path class="wb" d="M465,118 L490,104 L508,118 L500,138 L478,140 Z"/>
<path class="wb" d="M258,512 L285,508 L288,542 L262,548 Z"/>
</g>
<!-- 31_p26 -->
<g transform="translate(860 450) scale(.21295)">
<!-- back coil -->
<path class="w" d="M300,100 C220,55 120,80 92,170 C78,230 92,285 115,310 L300,200 Z"/>
<!-- body -->
<path class="w" d="M280,120 L330,88 L700,250 L745,330 L745,560 L730,650 L640,705 L520,700 L150,525 L90,465 L100,300 L180,175 Z"/>
<path class="k" d="M180,175 L500,330 M100,300 L445,465 M90,465 L420,610 M280,120 L610,268 M300,108 L640,255 M290,135 L585,275 M185,190 L110,310 M100,300 L92,455 M78,470 Q85,500 100,500"/>
<path class="b" d="M330,88 L700,250"/>
<!-- lower front coil -->
<path class="wb" d="M445,465 C415,520 415,600 445,650 L520,700 C600,715 700,690 735,640 C760,580 750,400 742,335 L650,372 L470,482 Z"/>
<path class="bb" d="M455,570 C500,625 590,655 640,595 C665,560 668,520 672,480 M462,600 C520,660 610,670 665,600"/>
<path class="k" d="M560,430 L690,480 M600,400 L720,445 M590,415 L650,440 M690,480 C700,520 690,560 672,590 M720,445 L722,470"/>
<!-- upper front coil -->
<path class="wb" d="M470,482 L440,462 C450,400 470,350 492,330 L625,262 C680,262 730,285 745,312 L742,335 L720,333 L650,372 Z"/>
<path class="b" d="M470,482 C475,430 490,380 515,350 L640,290 L745,312 M625,262 L640,290"/>
<ellipse class="k" cx="715" cy="382" rx="10" ry="18" transform="rotate(15 715 382)"/>
<ellipse class="k" cx="437" cy="538" rx="10" ry="18" transform="rotate(15 437 538)"/>
<!-- wires -->
<g fill="none" stroke-linecap="butt">
<path d="M690,262 C740,215 800,205 860,212 C920,222 980,240 1035,235" stroke="#000" stroke-width="4"/>
<path d="M690,262 C740,215 800,205 860,212 C920,222 980,240 1033,235" stroke="#fff" stroke-width="1.3"/>
<path d="M738,490 C790,495 840,470 880,450 C910,438 940,450 968,472" stroke="#000" stroke-width="4"/>
<path d="M738,490 C790,495 840,470 880,450 C910,438 940,450 966,470" stroke="#fff" stroke-width="1.3"/>
<path d="M445,455 C400,430 340,425 300,450 C230,500 180,600 85,692" stroke="#000" stroke-width="4"/>
<path d="M445,455 C400,430 340,425 300,450 C230,500 180,600 87,690" stroke="#fff" stroke-width="1.3"/>
<path d="M520,650 C560,700 590,760 610,820 C630,880 635,960 600,1035" stroke="#000" stroke-width="4"/>
<path d="M520,650 C560,700 590,760 610,820 C630,880 635,960 601,1033" stroke="#fff" stroke-width="1.3"/>
</g>
</g>
<!-- 40_p29 -->
<g transform="translate(320 550) scale(.17746)">
<path d="M375,105 L490,108 L600,160 L605,200 L700,255 L760,320 L910,378 L1240,520 L1300,700 L1300,1150 L1040,1115 L800,1014 L330,855 L270,840 L230,885 L200,890 L95,850 L55,740 L55,490 L95,340 L200,210 Z" fill="#fff"/><path class="b" d="M1240,520 L910,378 L760,320 L700,255 L605,200 L600,160 L490,108 L375,105 L200,210 L95,340 L55,490 L55,740 L95,850 L200,890 L230,885 L270,840 L330,855 L800,1014 L1040,1115"/>
<path class="k" d="M95,340 L205,375 L210,395 L150,520 L135,630 L140,765 L205,890 M55,490 L135,520 M55,740 L140,765 M205,375 L290,300 L370,340 M200,210 L195,240 L350,300 M375,105 L430,140 L600,160 M430,140 L345,225"/>
<path class="b" d="M210,395 L320,470 L610,590 L1127,800 M140,765 L230,770 L330,820 L800,1000 L1040,1100"/>
<path class="k" d="M150,520 L280,530 L620,665 L900,785 M625,600 L1000,755"/>
<path class="k" d="M395,610 Q375,700 395,810 L830,985 L855,960 L850,870 L820,790 Z"/>
<path class="b" d="M345,225 L420,165 L470,170 L700,260 L760,320 L755,350 L640,400 L610,420 L560,350 L370,280 Z"/>
<path class="b" d="M370,280 L375,340 L545,405 L600,420 M610,420 L600,330 L560,350 M420,165 L600,235 L740,330"/>
<path class="bb" d="M375,245 L430,205 L470,210 L640,275 L605,312 Z M430,205 L425,240 L590,300"/>
<path class="k" d="M470,240 L610,290 M480,255 L600,298 M460,270 L580,312 M500,225 L480,290 M680,312 L720,325"/>
<path class="bb" d="M910,380 Q700,480 640,525 L615,580 M680,316 L715,326"/>
<path class="k" d="M755,350 L910,378"/>
</g>
<g transform="translate(470 630) scale(.10648)">
<!-- ring & cage (G3) -->
<path class="bb" style="stroke-width:4" d="M480,100 C300,170 150,400 85,700 C60,900 120,1040 230,1090 M500,140 C340,210 200,420 140,700 C115,880 160,1010 260,1060"/>
<path class="b" style="stroke-width:2.8" d="M560,210 C400,310 280,520 225,800 C210,900 230,980 270,1030 M600,240 C450,340 330,540 275,800"/>
<path class="bb" style="stroke-width:4" d="M330,0 L620,110 L665,150 M480,100 L640,130 L770,240 L860,330 L1000,440 L1127,500"/>
<path class="bb" style="stroke-width:4" d="M340,195 L600,325 M360,245 L565,350 M640,230 L760,240 M560,210 L640,230 L700,330 L835,520 M600,325 L700,330"/>
<path class="b" style="stroke-width:2.8" d="M560,350 L860,545 M620,420 L900,470 L1000,440 M700,330 L860,330 M760,430 L830,520 L900,470 M660,300 L760,240"/>
<path class="bb" style="stroke-width:4" d="M420,388 L790,642 M470,372 L820,612 M420,388 L470,372 M540,560 L640,640"/>
<path class="b" style="stroke-width:2.8" d="M0,372 L330,522 L520,600 M0,432 L300,562 L450,625 M330,522 L690,680"/>
<ellipse class="bb" style="stroke-width:4" cx="480" cy="635" rx="55" ry="35" transform="rotate(20 480 635)"/>
<path class="bb" style="stroke-width:4" d="M540,640 L620,630 L700,680"/>
<path class="bb" style="stroke-width:4" d="M250,680 L640,765 L790,762 M280,720 L620,800 M790,642 L790,1127 M830,650 L830,1127"/>
<path class="b" style="stroke-width:2.8" d="M330,745 L335,870 M250,680 L235,900 L300,1040 M335,870 L480,800 L520,760 M640,765 L650,900 L600,1000"/>
<path class="bb" style="stroke-width:4" d="M225,905 L330,870 L780,985 M260,960 L760,1070 M300,1040 C420,1100 600,1125 720,1120 L790,1100 M230,1090 L700,1127"/>
<path class="b" style="stroke-width:2.8" d="M0,940 L300,1090 M0,985 L280,1110 M650,900 L790,935"/>
</g>
<g transform="translate(460 620) scale(.17746)">
<path class="b" d="M560,440 L700,350 L800,385 L880,420 L900,440 L720,545 L690,520 Z M660,395 L700,420 L760,385 M690,410 L730,435 M720,385 L780,420 L830,395 M750,430 L800,450"/>
<path class="bb" d="M655,410 L700,385 M700,425 L760,395 M745,445 L790,420"/>
<path class="wb" d="M690,520 L715,540 L715,850 L800,882 L808,725 L850,745 L850,790 L880,800 L885,740 L940,760 L990,790 L992,700 L1040,640 L1040,520 L950,450 L940,405 L880,412 L900,440 L720,545 Z"/>
<path class="b" d="M880,412 L885,470 L830,520 L760,560 L720,545 M885,470 L950,500 L960,600 L1000,610 M830,520 L900,560 L905,720 M900,560 L960,540 M950,450 L930,500 M990,700 L985,670 Q970,650 960,680 L955,760"/>
<ellipse class="bb" cx="995" cy="575" rx="18" ry="35"/>
<path class="k" d="M545,560 L690,610 M545,600 L690,650 M545,640 L690,690 M545,700 L690,740 M560,745 L600,760 L600,790 L640,800 L640,760 L690,775 L715,790"/>
<path class="bb" d="M545,620 L690,670 M545,720 L700,765"/>
</g>
<!-- 41_p27_28 -->
<g transform="translate(340 450) scale(.22183)">
<!-- 28 lever -->
<path class="w" d="M100,235 Q80,248 95,268 L330,375 L710,542 L740,582 L820,617 L985,700 L985,852 L1005,885 L1080,850 L1075,655 L790,520 L720,505 L350,340 L240,285 L130,232 Z"/>
<path class="b" d="M95,268 L330,375 L710,542 L740,582 L820,617 L985,700"/>
<path class="k" d="M335,362 L705,525 L735,565 M240,285 L215,310 M350,340 L330,370 M870,560 L820,612 M1075,655 L1010,692 L985,680 M1010,692 L1005,885 M140,255 L185,272 L200,262 L155,245 Z M720,505 L705,525"/>
<path class="b" d="M995,655 L1025,668 M1000,665 L1020,675"/>
<!-- 27 slider -->
<path class="w" d="M150,195 L155,210 L200,228 L215,222 Z"/>
<path class="wb" d="M65,110 L150,55 L185,60 L330,150 L330,180 L250,230 L215,225 L70,160 Z"/>
<path class="b" d="M65,110 L215,185 L250,195 L330,150 M215,185 L215,225 M250,195 L250,230"/>
<path class="f" d="M150,120 L215,85 L300,140 L225,180 Z"/>
<ellipse class="w" cx="140" cy="98" rx="30" ry="20"/>
</g>
<!-- 42_p30_33 -->
<g transform="translate(580 600) scale(.14197)">
<!-- 30 brush holder -->
<path class="wb" d="M60,205 L150,152 L195,168 L200,215 L305,270 L310,300 L270,330 L345,440 L280,490 L60,400 Z" style="stroke-width:3"/>
<path class="bb" d="M95,225 L95,390 M60,205 L95,225 L165,185 L165,215 M95,300 L250,360 L250,330 L300,300 M95,330 L230,385 M120,250 L180,215 L290,270 L210,320 L105,280 M95,390 L280,470 L300,455 M180,340 L180,400 M230,350 L235,430 L280,445 M150,370 L175,380"/>
<path class="f" d="M100,345 L175,372 L175,395 L100,368 Z M150,205 L200,180 L240,240 L200,235 Z M235,335 L275,320 L285,370 L240,385 Z"/>
<!-- 31 spring -->
<path class="wb" d="M280,355 V390 A65,35 0 0,0 410,390 V355 Z"/>
<ellipse class="wb" cx="345" cy="355" rx="65" ry="35"/>
<ellipse class="f" cx="335" cy="352" rx="22" ry="13"/>
<!-- 32 brush -->
<path class="w" d="M380,120 L490,58 L565,100 L565,150 L455,220 L380,175 Z"/>
<path class="k" d="M380,120 L455,165 L565,100 M455,165 V220"/>
<!-- 33 switch -->
<path class="wb" d="M630,250 L795,165 L975,245 L985,520 L780,645 L610,590 L610,290 Z" style="stroke-width:3"/>
<path class="bb" d="M630,250 L790,345 L975,245 M790,345 L780,645 M770,350 L760,635"/>
<path class="b" d="M740,330 L730,625 M630,250 L640,280 L610,290 M650,262 L650,290"/>
<path class="f" d="M585,395 L720,440 L720,480 L585,430 Z M640,300 L720,335 L720,420 L640,385 Z M640,470 L720,500 L720,600 L640,570 Z"/>
<path d="M665,345 L705,360 L705,395 L665,380 Z M665,520 L705,535 L705,565 L665,550 Z" fill="#fff"/>
<path class="wb" d="M600,560 L640,575 L640,600 L600,585 Z"/>
<ellipse class="bb" cx="888" cy="440" rx="42" ry="75" transform="rotate(-8 888 440)"/>
<ellipse class="b" cx="900" cy="440" rx="28" ry="52" transform="rotate(-8 900 440)"/>
<path class="wb" d="M915,415 L990,440 Q1015,455 1005,480 L985,492 L910,468 Z"/>
<ellipse class="b" cx="992" cy="466" rx="14" ry="26" transform="rotate(-8 992 466)"/>
<path class="b" d="M950,428 L945,478"/>
</g>
<!-- 43_p35_39 -->
<g transform="translate(410 745) scale(.22183)">
<!-- lower brush holder -->
<path class="wb" d="M125,85 L185,50 L202,60 L205,85 L320,112 L337,128 L330,150 L345,175 L345,195 L310,215 L270,205 L225,215 L130,210 Z" style="stroke-width:2.8"/>
<path class="bb" d="M150,95 L150,200 M125,85 L150,95 L195,70 M150,130 L250,150 L300,130 M150,160 L230,180 L260,165 M165,105 L200,90 L310,120 L255,145 L160,125 M150,200 L225,210 M200,150 L200,185 M240,150 L240,175"/>
<path class="f" d="M160,75 L190,60 L215,95 L180,100 Z M155,165 L200,175 L200,190 L155,182 Z"/>
<path class="wb" d="M272,180 V198 A38,18 0 0,0 348,198 V180 Z"/><ellipse class="wb" cx="310" cy="180" rx="38" ry="18"/>
<path class="wb" d="M290,130 L335,125 L325,165 L300,175 Z"/>
<!-- brush 2 -->
<path class="w" d="M30,320 L100,272 L152,300 L152,335 L80,378 L30,350 Z"/><path class="k" d="M30,320 L80,345 L152,300 M80,345 V378"/>
<!-- capacitor 39 -->
<g fill="none"><path d="M738,378 C715,330 705,260 755,210" stroke="#000" stroke-width="4"/><path d="M738,378 C715,330 705,260 754,211" stroke="#fff" stroke-width="1.3"/>
<path d="M645,425 C590,410 555,370 580,315" stroke="#000" stroke-width="4"/><path d="M645,425 C590,410 555,370 580,317" stroke="#fff" stroke-width="1.3"/></g>
<path class="w" d="M620,440 L740,372 L865,400 L865,450 L735,528 L620,490 Z"/>
<path class="k" d="M620,440 L735,470 L865,400 M735,470 V528 M628,452 L735,482"/>
<!-- clamp 38 -->
<path class="wb" d="M903,155 L903,178 Q915,200 940,195 L1000,172 L1060,132 L1062,105 Q1050,90 1030,92 L960,110 Q915,130 903,155 Z"/>
<path class="b" d="M903,158 Q915,180 940,175 L1000,152 L1060,112"/>
<ellipse class="k" cx="935" cy="158" rx="17" ry="9"/><ellipse class="k" cx="1027" cy="108" rx="15" ry="8"/>
<path class="bb" d="M955,135 L1005,112 M960,145 L1000,127"/>
</g>
<!-- 44_p35s -->
<path class="wt" d="M618.8,801.0 V818.0 H625.2 V801.0 Q622.0,797.5 618.8,801.0 Z"/><path class="k" d="M618.8,802.5 h6.4 M618.8,805.1 h6.4 M618.8,807.7 h6.4 M618.8,810.3 h6.4 M618.8,812.9 h6.4 M618.8,815.5 h6.4 "/><path class="wt" d="M616.5,818.0 l2.5,-3.5 h6.0 l2.5,3.5 v4 l-2.5,3 h-6.0 l-2.5,-3 Z"/><ellipse class="t" cx="622.0" cy="819.0" rx="4.0" ry="2.2"/>
<path class="wt" d="M638.2,791.0 V808.0 H644.6 V791.0 Q641.4,787.5 638.2,791.0 Z"/><path class="k" d="M638.2,792.5 h6.4 M638.2,795.1 h6.4 M638.2,797.7 h6.4 M638.2,800.3 h6.4 M638.2,802.9 h6.4 M638.2,805.5 h6.4 "/><path class="wt" d="M635.9,808.0 l2.5,-3.5 h6.0 l2.5,3.5 v4 l-2.5,3 h-6.0 l-2.5,-3 Z"/><ellipse class="t" cx="641.4" cy="809.0" rx="4.0" ry="2.2"/>
<!-- 45_p34 -->
<g transform="translate(640 690) scale(.19521)">
<path class="wb" d="M100,295 C130,200 230,115 350,120 L900,345 Q950,370 965,430 L1000,480 L1010,560 L1045,640 L1040,740 L960,800 L780,872 L680,882 L95,625 L80,600 L100,480 L75,380 Z"/>
<path class="bb" d="M100,295 L345,400 L700,522 M110,315 L345,418"/>
<path class="b" d="M940,385 C960,490 860,530 720,525 M700,522 L760,590 L760,800 L690,880 M95,610 L680,862 L770,852"/>
<path class="k" d="M75,380 L270,450 L345,420 M270,450 L310,560 L100,480 M310,560 L330,600 L300,645 L95,600 M330,600 L480,600 M300,645 L380,680 M320,575 L420,545 L470,600"/>
<path class="f" d="M350,415 L395,430 L480,590 L440,580 Z M420,440 L470,455 L555,600 L515,590 Z M500,470 L545,485 L630,625 L590,615 Z M575,495 L625,510 L715,660 L665,645 Z"/>
<path class="b" d="M360,355 L440,440 M345,400 L720,540 M395,430 L640,515 M480,590 L700,660 M570,600 L590,640 L640,650"/>
<path class="f" d="M380,690 L420,700 L400,745 L360,730 Z M440,712 L480,725 L465,765 L425,752 Z M505,735 L545,748 L530,790 L490,775 Z M570,755 L610,768 L595,812 L555,798 Z M635,775 L700,800 L680,840 L620,820 Z"/>
<path class="b" d="M370,680 L720,800 M340,740 L690,870 M430,700 L410,760 M560,750 L540,800"/>
<path d="M648,790 L685,803 L675,825 L640,812 Z" fill="#fff"/>
<!-- outlet -->
<path class="wb" d="M930,600 C880,620 830,680 835,740 C840,790 880,800 920,795 L990,790 L1040,700 L1000,600 Z"/>
<ellipse class="bb" cx="985" cy="700" rx="58" ry="98" transform="rotate(18 985 700)" fill="#fff" style="stroke-width:5"/>
<ellipse class="bb" cx="985" cy="702" rx="38" ry="75" transform="rotate(18 985 702)"/>
<path class="b" d="M915,520 Q905,560 930,590 L975,600 M915,520 Q940,500 960,540 L975,575 M935,540 Q930,560 945,575"/>
<path class="k" d="M750,715 L765,715 M895,605 L910,610"/>
</g>
<!-- 46_p36_37 -->
<g transform="translate(830 780) scale(.12422)">
<!-- screw 35 -->
<path class="wb" d="M290,160 L145,105 Q115,115 122,145 Q125,160 140,165 L270,218 Z"/>
<ellipse class="wb" cx="313" cy="200" rx="40" ry="62" transform="rotate(15 313 200)" style="stroke-width:3.6"/>
<ellipse class="b" cx="315" cy="200" rx="18" ry="32" transform="rotate(15 315 200)"/>
<path class="b" d="M300,185 L330,215"/>
<!-- sleeve 36 -->
<ellipse class="wb" cx="165" cy="465" rx="62" ry="142" transform="rotate(18 165 465)" style="stroke-width:4.2"/>
<ellipse class="wb" cx="200" cy="472" rx="50" ry="120" transform="rotate(18 200 472)" style="stroke-width:3"/>
<path class="wb" d="M262,362 Q330,420 385,455 L770,610 L700,752 L330,602 Q260,595 205,588 C175,520 200,410 262,362 Z"/>
<path class="b" d="M385,455 C340,480 315,550 330,602"/>
<ellipse class="wb" cx="780" cy="705" rx="62" ry="100" transform="rotate(18 780 705)" style="stroke-width:3.6"/>
<ellipse class="b" cx="785" cy="705" rx="36" ry="62" transform="rotate(18 785 705)"/>
</g>
<!-- cable 37 -->
<g fill="none" stroke-linecap="round">
<path d="M949.5,881.5 L997.3,903.3 C1020,914 1040,925 1052,950 C1064,975 1069,1000 1066,1022 C1062,1050 1050,1072 1040.8,1082 L1019,1103" stroke="#000" stroke-width="10.4"/>
<path d="M949.5,881.5 L997.3,903.3 C1020,914 1040,925 1052,950 C1064,975 1069,1000 1066,1022 C1062,1050 1050,1072 1040.8,1082 L1018,1104" stroke="#fff" stroke-width="8"/>
</g>
<!-- 47_plug -->
<g transform="translate(940 1080) scale(.0976)">
<path class="w" d="M370,285 C260,330 180,430 178,540 L190,650 L225,700 C260,790 330,840 380,860 Q350,890 390,905 Q440,905 450,870 L560,830 Q540,880 580,885 L640,850 L650,790 L700,800 C770,720 800,620 780,520 L760,470 L640,290 C560,270 450,265 370,285 Z"/>
<path class="k" d="M250,370 C225,450 230,560 250,620 M270,650 C330,760 450,810 570,800 C620,790 650,780 680,770 M190,650 L330,590 M225,700 L350,610"/>
<ellipse class="w" cx="392" cy="568" rx="55" ry="50"/>
<path class="w" d="M375,395 L560,330 L650,480 L720,540 L620,742 L520,715 Z"/>
<path class="f" d="M420,402 L540,365 L612,495 L527,645 Z"/>
<path class="k" d="M560,330 L585,320 L670,460 L650,480 M612,495 L527,645 L520,715 M612,495 L720,540 M540,365 L560,330 M630,500 L545,660"/>
<!-- strain relief -->
<path class="f" d="M600,300 L690,235 L790,400 L700,470 Z"/>
<path d="M640,330 L720,440 M665,312 L745,422 M690,295 L770,405" stroke="#fff" stroke-width=".8" fill="none"/>
<path class="w" d="M690,235 L760,180 Q800,160 840,175 L900,290 Q900,330 860,350 L790,400 Z"/>
<ellipse class="k" cx="812" cy="242" rx="72" ry="55" transform="rotate(-35 812 242)"/>
<path class="w" d="M780,215 L1000,-10 L1127,20 L895,295 Q820,300 780,215 Z"/>
<path class="k" d="M890,120 Q900,180 960,190"/>
<path class="k" d="M700,470 L780,420 L800,440 L730,490 Z"/>
</g>
<!-- 48_p40_41 -->
<path d="M1127,1195.2 H629.4 V1435" fill="none" stroke="#000" stroke-width="2"/>
<g transform="translate(625 1255) scale(.19521)">
<ellipse class="w" cx="838" cy="355" rx="192" ry="262" transform="rotate(-22 838 355)"/>
<path class="bb" d="M760,102 C880,90 1040,260 1045,430 C1045,540 980,610 900,608"/>
<path class="w" d="M135,580 L750,270 C830,260 900,380 870,480 L290,842 Z"/>
<path class="b" d="M750,270 C830,260 900,380 870,480"/>
<ellipse class="w" cx="200" cy="715" rx="108" ry="142" transform="rotate(-20 200 715)" style="stroke-width:2.2"/>
<ellipse class="k" cx="203" cy="715" rx="88" ry="120" transform="rotate(-20 203 715)"/>
<path class="b" d="M270,515 L745,295 Q775,295 770,320 L300,550 Q265,550 270,515 Z M385,690 L830,420 Q858,425 850,455 L410,740 Q378,735 385,690 Z"/>
<path class="bb" d="M270,515 L745,295 M410,740 L850,455"/>
</g>
<g transform="translate(860 1310) scale(.23691)">
<path class="wb" d="M110,95 L200,95 Q270,110 305,168 L1020,168 Q1085,170 1085,230 Q1085,290 1020,292 L305,292 Q270,350 200,365 L110,365 Q75,360 78,330 Q80,300 120,297 Q210,295 212,230 Q210,165 120,162 Q80,160 78,130 Q78,98 110,95 Z" style="stroke-width:2"/>
<circle class="b" cx="113" cy="130" r="11" style="stroke-width:2"/><circle class="b" cx="113" cy="330" r="11" style="stroke-width:2"/>
</g>
<!-- 80_axes -->
<path class="d" d="M170.4,275 V1101"/>
<path class="d" d="M214.1,101 V190"/>
<path class="d" d="M291,256.6 L1095.5,593.8"/>
<path class="d" d="M520,691 L655,749"/>
<path class="d" d="M141.3,183 L156,188.7 M132.5,201.8 L146,207.4 M109.3,250.7 L199,287.5 M240.5,162 L252,166.6"/>
<path class="ds" d="M1096,594 L978.5,657 L419.6,424.9 L289.6,497.4 L394.3,541 L293,598 L360,629"/>
<path class="ds" d="M900,433 L851.6,461.5 L880,475"/>
<path class="ds" d="M791,552.4 L800.4,553.5 L853.5,524 L880,536"/>
<!-- 85_leaders -->
<path class="l" d="M56.9,36.4L208.5,79.3M56.9,95.0L207.1,127.9M56.9,172.0L159.7,227.0M56.9,227.0L76.5,235.6M56.9,272.3L208.5,325.8M56.9,315.8L159.4,348.0M56.9,366.0L164.0,377.6M56.9,406.8L135.0,405.0M56.9,450.0L186.0,442.9M56.9,500.2L142.7,482.6M57.2,560.0L145.9,536.0M57.2,617.2L105.0,598.5M57.2,726.3L163.7,687.7M57.2,786.2L153.0,795.5M57.0,910.5L126.0,944.2M57.0,1025.6L143.5,1038.8M57.0,1095.6L143.5,1111.0M384.9,170.9L324.4,260.3M442.7,194.3L354.6,264.4M536.2,234.2L417.9,286.4M588.5,256.2L448.2,296.0M670.0,291.0L569.0,357.3M748.6,322.6L695.8,408.6M798.3,343.7L730.5,420.6M836.0,360.3L801.4,407.0M887.0,382.0L847.9,403.8M997.3,427.0L949.4,482.2M409.4,463.9L399.8,475.0M462.0,486.2L422.0,529.4M535.5,516.6L458.9,610.8M588.4,539.5L606.9,623.0M628.8,555.0L627.7,650.7M680.7,578.0L650.7,613.8M731.0,608.7L701.5,641.5M816.5,637.0L735.7,735.0M896.9,667.3L856.5,800.0M984.6,705.3L895.7,840.3M1054.9,735.3L971.2,893.2M537.3,885.4L572.0,842.6M607.6,915.0L613.6,788.3M695.7,952.7L641.4,813.9M820.0,1239.7L797.2,1294.8M1002.2,1239.7L967.8,1355.8"/>
<!-- 90_labels -->
<g class="n" opacity=".999">
<text transform="translate(24.9 49.8) scale(0.65 1)">17</text>
<text transform="translate(26.1 108.8) scale(0.65 1)">16</text>
<text transform="translate(25.5 185.8) scale(0.65 1)">15</text>
<text transform="translate(26.1 242.7) scale(0.65 1)">14</text>
<text transform="translate(25.1 285.7) scale(0.65 1)">13</text>
<text transform="translate(24.5 329.8) scale(0.65 1)">12</text>
<text transform="translate(24.5 378.2) scale(0.65 1)">11</text>
<text transform="translate(25.1 420.6) scale(0.65 1)">10</text>
<text transform="translate(26.9 465.4) scale(0.65 1)">9</text>
<text transform="translate(41.1 518.7) scale(0.65 1)">8</text>
<text transform="translate(41.7 574.6) scale(0.65 1)">7</text>
<text transform="translate(42.7 631.8) scale(0.65 1)">6</text>
<text transform="translate(41.7 738.3) scale(0.65 1)">5</text>
<text transform="translate(42.9 798.2) scale(0.65 1)">4</text>
<text transform="translate(41.3 923.7) scale(0.65 1)">3</text>
<text transform="translate(39.1 1039.4) scale(0.65 1)">2</text>
<text transform="translate(38.3 1108.2) scale(0.65 1)">1</text>
<text transform="translate(374.1 167.3) scale(0.65 1)">18</text>
<text transform="translate(433.5 192.0) scale(0.65 1)">19</text>
<text transform="translate(529.9 231.8) scale(0.65 1)">20</text>
<text transform="translate(588.9 254.7) scale(0.65 1)">8</text>
<text transform="translate(662.9 287.9) scale(0.65 1)">21</text>
<text transform="translate(742.5 321.0) scale(0.65 1)">22</text>
<text transform="translate(792.1 342.2) scale(0.65 1)">23</text>
<text transform="translate(832.5 358.8) scale(0.65 1)">24</text>
<text transform="translate(883.5 380.6) scale(0.65 1)">25</text>
<text transform="translate(991.5 425.6) scale(0.65 1)">26</text>
<text transform="translate(404.9 463.9) scale(0.65 1)">27</text>
<text transform="translate(456.1 484.6) scale(0.65 1)">28</text>
<text transform="translate(524.1 514.3) scale(0.65 1)">29</text>
<text transform="translate(578.5 536.5) scale(0.65 1)">30</text>
<text transform="translate(620.1 553.4) scale(0.65 1)">31</text>
<text transform="translate(674.5 576.4) scale(0.65 1)">32</text>
<text transform="translate(723.7 607.3) scale(0.65 1)">33</text>
<text transform="translate(812.9 634.3) scale(0.65 1)">34</text>
<text transform="translate(887.3 666.1) scale(0.65 1)">35</text>
<text transform="translate(976.7 703.2) scale(0.65 1)">36</text>
<text transform="translate(1046.3 733.0) scale(0.65 1)">37</text>
<text transform="translate(516.5 915.9) scale(0.65 1)">39</text>
<text transform="translate(589.5 946.0) scale(0.65 1)">38</text>
<text transform="translate(678.5 985.0) scale(0.65 1)">35</text>
<text transform="translate(808.5 1237.4) scale(0.65 1)">40</text>
<text transform="translate(990.3 1237.4) scale(0.65 1)">41</text>
</g>
<!-- 95_watermark -->
<g style="mix-blend-mode:multiply">
<clipPath id="cu"><rect x="240" y="664" width="220" height="200"/></clipPath>
<g id="wm" font-family="Liberation Sans, sans-serif" font-weight="bold" font-size="245.1" fill="#bbbbbb" stroke="#bbbbbb" stroke-width="16.9" stroke-linejoin="miter">
<text transform="translate(44.0 841.1) scale(1.068 1)" x="0" y="0">H</text>
<g clip-path="url(#cu)"><text transform="translate(254.5 841.1) scale(1.055 1)" x="0" y="0">Ü</text></g>
<text transform="translate(464 841.1) scale(1.05 1)" x="0" y="0">T</text>
<text transform="translate(645 841.1) scale(1.068 1)" x="0" y="0">E</text>
<text transform="translate(828.6 841.1) scale(1.0 1)" x="0" y="0">R</text>
</g>
<g id="wmfix" stroke="none">
<rect x="317.6" y="655" width="62" height="16" fill="#fff"/>
<rect x="275.7" y="609.1" width="42" height="28.3" fill="#bbb"/>
<rect x="379.6" y="609.1" width="41.6" height="28.3" fill="#bbb"/>
<rect x="803.8" y="660" width="20" height="50" fill="#fff"/><rect x="709" y="702.7" width="100" height="6" fill="#fff"/><rect x="709" y="770.6" width="100" height="8" fill="#fff"/><rect x="709" y="804" width="100" height="3.6" fill="#fff"/>
<rect x="796" y="728" width="20" height="55" fill="#fff"/>
<rect x="805.2" y="800" width="25" height="52" fill="#fff"/>
<rect x="888" y="664" width="3.6" height="185.6" fill="#bbb"/>
<rect x="889" y="739.5" width="62" height="7" fill="#bbb"/>
<rect x="938" y="700" width="12" height="45" fill="#bbb"/>
<path d="M891.6,703 H930 Q938,705 938,721 Q938,737 930,739.5 H891.6 Z" fill="#fff"/>
<path d="M891.6,775 L906.5,775 L914.5,787 L891.6,787 Z" fill="#fff"/>
<!-- swoosh -->
<path d="M907,664 C907,640 912,615 931,596 C940,588 948,585.4 958,585.4 L1010,585.4 L1001,596 C985,600 965,606 952,620 C940,634 932,650 930,664 Z" fill="#bbb"/>
<path d="M928,683 C929,655 936,632 952,618 C960,610 968,607 978,607 L1040,607 L1028,625 C1005,626 988,634 977,648 C966,662 962,672 962,683 Z" fill="#fff"/>
<path d="M931.5,680 C932,656 940,634 955,621 C962,613 970,609.6 979,609.6 L1036.5,609.6 L1026,622.3 C1003,624 985,632 974,646 C964,660 959.5,670 959,680 Z" fill="#f5a8ae"/>
<path d="M956,704 C956,680 962,658 976,644 C990,630 1004,627 1018,626.5 L1068,626 C1052,650 1036,675 1031,704 Z" fill="#fff"/>
<path d="M959,700.7 C959.5,680 965,660 978,646.5 C991,633.5 1004,630.5 1018,630 L1063,629 C1049,652 1033,675 1028.4,700.7 Z" fill="#f7f3a2"/>
</g>
</g>
</svg>
</body></html>
